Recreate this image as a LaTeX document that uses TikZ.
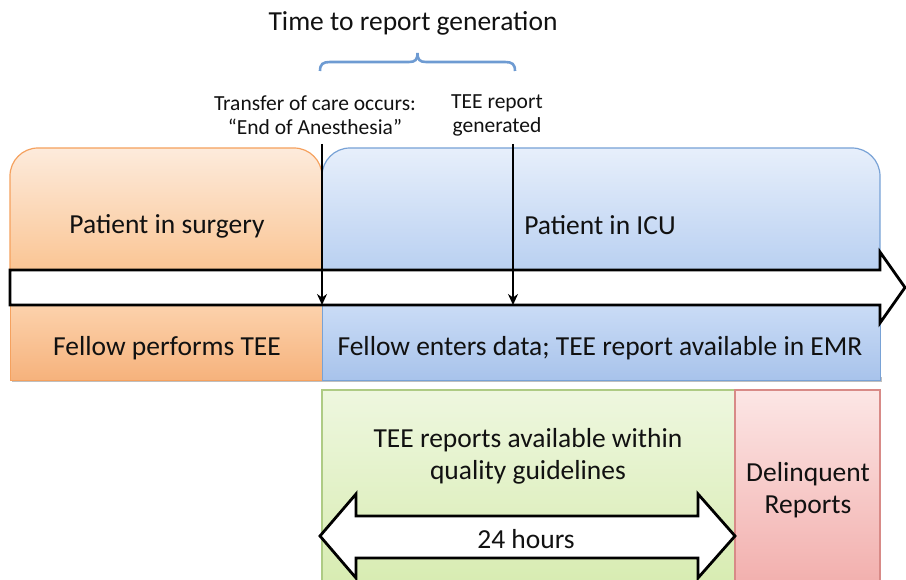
\documentclass[tikz,border=0pt]{standalone}
\usepackage{fontspec}
\usetikzlibrary{arrows.meta}
\setmainfont{Carlito}
\definecolor{orT}{HTML}{FDEBDC}
\definecolor{orB}{HTML}{FAC594}
\definecolor{orL}{HTML}{F5A15E}
\definecolor{or2T}{HTML}{FCD2AC}
\definecolor{or2B}{HTML}{F6B27C}
\definecolor{blT}{HTML}{E7EFFB}
\definecolor{blB}{HTML}{B9D0F1}
\definecolor{blL}{HTML}{78A2D6}
\definecolor{bl2T}{HTML}{CADCF6}
\definecolor{bl2B}{HTML}{A8C3EB}
\definecolor{grT}{HTML}{EEF7DF}
\definecolor{grB}{HTML}{D8ECB2}
\definecolor{grL}{HTML}{AECB84}
\definecolor{rdT}{HTML}{FCE6E5}
\definecolor{rdB}{HTML}{F2B0AE}
\definecolor{rdL}{HTML}{D88A87}
\definecolor{braceC}{HTML}{6E9BD2}
\definecolor{txt}{HTML}{111111}
\begin{document}
\begin{tikzpicture}[x=1pt,y=1pt,
  big/.style={font=\fontsize{27.5}{32}\selectfont, text=txt, align=center, inner sep=0pt},
  small/.style={font=\fontsize{21.5}{24}\selectfont, text=txt, align=center, inner sep=0pt},
  title/.style={font=\fontsize{27.5}{32}\selectfont, text=txt, inner sep=0pt},
  outline/.style={draw=black, line width=2.8pt, fill=white, line join=miter},
  vline/.style={draw=black, line width=2.2pt, -{Stealth[length=11pt,width=10pt]}}]
\useasboundingbox (0,0) rectangle (906,580);
% top boxes
\shade[top color=orT, bottom color=orB, draw=orL, line width=1.2pt]
  (10,310) -- (10,404) arc[start angle=180, end angle=90, radius=28] -- (294,432)
  arc[start angle=90, end angle=0, radius=28] -- (322,310) -- cycle;
\shade[top color=blT, bottom color=blB, draw=blL, line width=1.2pt]
  (322,310) -- (322,404) arc[start angle=180, end angle=90, radius=28] -- (852,432)
  arc[start angle=90, end angle=0, radius=28] -- (880,310) -- cycle;
% bottom boxes
\fill[black!25] (12,198) rectangle (324,203);
\fill[black!25] (324,198) rectangle (882,203);
\shade[top color=or2T, bottom color=or2B, draw=orL, line width=0.6pt] (10,200) rectangle (322,275);
\shade[top color=bl2T, bottom color=bl2B, draw=blL, line width=0.6pt] (322,200) rectangle (880,275);
% green and red boxes
\shade[top color=grT, bottom color=grB, draw=grL, line width=1.2pt] (322,-2) rectangle (735,190);
\shade[top color=rdT, bottom color=rdB, draw=rdL, line width=1.2pt] (735,-2) rectangle (880,190);
% timeline arrow
\draw[outline] (10,310) -- (880,310) -- (880,328) -- (905,292.5) -- (880,257) -- (880,275) -- (10,275) -- cycle;
% double arrow
\draw[outline] (320,44) -- (356,86) -- (356,64) -- (698,64) -- (698,86) -- (735,44) -- (698,2) -- (698,22) -- (356,22) -- (356,2) -- cycle;
% texts
\node[title] (t) at (413,557) {Time to report generation};
\node[small] (l1) at (315,465) {Transfer of care occurs:\\\textquotedblleft End of Anesthesia\textquotedblright};
\node[small] (l2) at (497,465) {TEE report\\generated};
\node[big] (ps) at (167,354) {Patient in surgery};
\node[big] (pi) at (600,355) {Patient in ICU};
\node[big] (fp) at (167,232) {Fellow performs TEE};
\node[big] (fe) at (600,232) {Fellow enters data; TEE report available in EMR};
\node[big] (tr) at (528,124) {TEE reports available within\\quality guidelines};
\node[big] (dr) at (808,90) {Delinquent\\Reports};
\node[big] (h) at (526,41) {24 hours};
% brace
\draw[braceC, line width=2.6pt] (320,509) .. controls (320,516) and (323,518) .. (330,518) -- (409,518)
  .. controls (415,518) and (417.5,520) .. (417.5,527) .. controls (417.5,520) and (420,518) .. (426,518)
  -- (505,518) .. controls (512,518) and (515,516) .. (515,509);
% vertical arrows
\coordinate (a1) at (322,436);
\coordinate (b1) at (322,275);
\coordinate (a2) at (513,436);
\coordinate (b2) at (513,275);
\draw[vline] (a1) -- (b1);
\draw[vline] (a2) -- (b2);
\end{tikzpicture}
\end{document}
